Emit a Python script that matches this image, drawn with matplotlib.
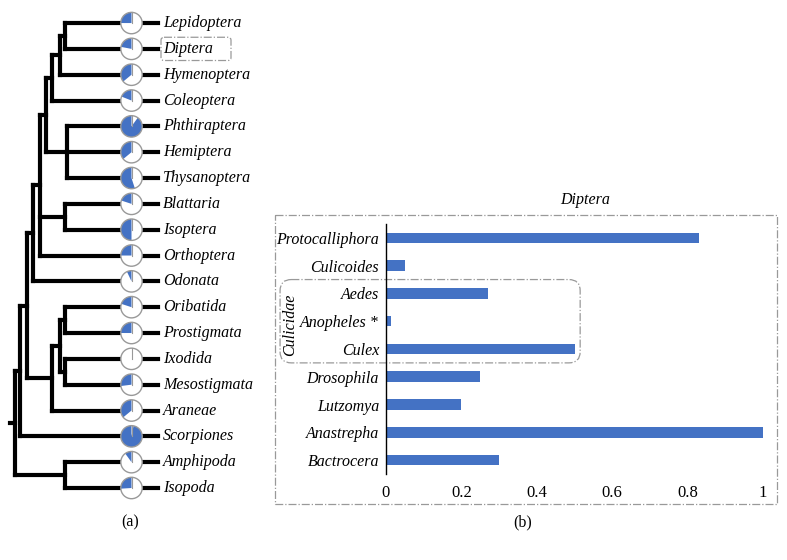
import matplotlib
matplotlib.use("Agg")
import matplotlib.pyplot as plt
from matplotlib.patches import Circle, Wedge, Rectangle, FancyBboxPatch
from matplotlib import transforms as mtransforms

plt.rcParams['font.family'] = ['Liberation Serif', 'DejaVu Serif']

# ---------------- data ----------------
tips = ["Lepidoptera", "Diptera", "Hymenoptera", "Coleoptera", "Phthiraptera",
        "Hemiptera", "Thysanoptera", "Blattaria", "Isoptera", "Orthoptera",
        "Odonata", "Oribatida", "Prostigmata", "Ixodida", "Mesostigmata",
        "Araneae", "Scorpiones", "Amphipoda", "Isopoda"]
pie_fraction = [0.25, 0.22, 0.36, 0.19, 0.90, 0.36, 0.55, 0.20, 0.50, 0.25,
                0.07, 0.20, 0.25, 0.0, 0.27, 0.36, 0.97, 0.10, 0.26]

# tree: (node depth, [children]); children are tip names or nodes
tree = (0, [(5, [(10, [(17, [(23, [(30, [(36, [(42, [(50, [(55, ["Lepidoptera", "Diptera"]),
                                                            "Hymenoptera"]),
                                                     "Coleoptera"]),
                                              (57, ["Phthiraptera", "Hemiptera", "Thysanoptera"])]),
                                       (55, ["Blattaria", "Isoptera"]),
                                       "Orthoptera"]),
                                "Odonata"]),
                         (42, [(50, [(55, ["Oribatida", "Prostigmata"]),
                                     (55, ["Ixodida", "Mesostigmata"])]),
                               "Araneae"])]),
                  "Scorpiones"]),
            (55, ["Amphipoda", "Isopoda"])])])
tip_depth = 121.5
tip_end = 148

genera = ["Protocalliphora", "Culicoides", "Aedes", "Anopheles *", "Culex",
          "Drosophila", "Lutzomya", "Anastrepha", "Bactrocera"]
gen_values = [0.83, 0.05, 0.27, 0.013, 0.50, 0.25, 0.20, 1.00, 0.30]
xticks = [0, 0.2, 0.4, 0.6, 0.8, 1]
xticklabels = ["0", "0.2", "0.4", "0.6", "0.8", "1"]

BLUE = "#4472C4"
GREY = "#999999"

fig = plt.figure(figsize=(7.87, 5.60), dpi=100)

# ---------------- panel (a): tree ----------------
axt = fig.add_axes([0.0, 0.1055, 160 / 787, 0.8764])
axt.set_xlim(-10, 150)
axt.set_ylim(len(tips) - 0.5, -0.5)
axt.axis("off")

tip_index = {n: i for i, n in enumerate(tips)}
LW = 3.0


def seg(x0, x1, y0, y1):
    axt.plot([x0, x1], [y0, y1], color="black", lw=LW,
             solid_capstyle="projecting", clip_on=False, zorder=2)


def draw(node, parent_depth):
    if isinstance(node, str):
        y = tip_index[node]
        seg(parent_depth, tip_end, y, y)
        return y
    depth, children = node
    ys = [draw(c, depth) for c in children]
    y = (ys[0] + ys[-1]) / 2
    if ys[0] != ys[-1]:
        seg(depth, depth, ys[0], ys[-1])
    if parent_depth is not None:
        seg(parent_depth, depth, y, y)
    return y


root_depth, root_children = tree
for c in root_children:
    draw(c, root_depth)

r_in = 0.107
for name, frac in zip(tips, pie_fraction):
    y = tip_index[name]
    tr = (mtransforms.Affine2D().scale(r_in) + fig.dpi_scale_trans +
          mtransforms.ScaledTranslation(tip_depth, y, axt.transData))
    axt.add_patch(Circle((0, 0), 1, transform=tr, fc="white", ec="none",
                         zorder=3, clip_on=False))
    if frac > 0:
        axt.add_patch(Wedge((0, 0), 1, 90, 90 + 360 * frac, transform=tr,
                            fc=BLUE, ec="none", zorder=4, clip_on=False))
    axt.plot([0, 0], [0, 1], transform=tr, color=GREY, lw=0.8, zorder=5,
             clip_on=False)
    axt.add_patch(Circle((0, 0), 1, transform=tr, fc="none", ec=GREY, lw=1.0,
                         zorder=6, clip_on=False))
    axt.text(153, y, name, style="italic", fontsize=11.5, va="center",
             ha="left", clip_on=False)

# dash-dot box around Diptera label
axt.add_patch(FancyBboxPatch((151, tip_index["Diptera"] - 0.45), 70, 0.9,
                             boxstyle="round,pad=0,rounding_size=3",
                             mutation_aspect=0.9 / 24,
                             fc="none", ec=GREY, lw=0.9, ls="-.",
                             clip_on=False, zorder=1))

fig.text(130 / 787, 1 - 522 / 560, "(a)", fontsize=11.5, ha="center", va="center")

# ---------------- panel (b): bars ----------------
axb = fig.add_axes([386 / 787, 1 - 474 / 560, 377 / 787, 250 / 560])
ypos = list(range(len(genera)))
axb.barh(ypos, gen_values, height=0.38, color=BLUE, zorder=2)
axb.set_xlim(0, 1)
axb.set_ylim(len(genera) - 0.5, -0.5)
axb.set_yticks(ypos)
axb.set_yticklabels(genera, style="italic", fontsize=11.5)
axb.set_xticks(xticks)
axb.set_xticklabels(xticklabels, fontsize=12)
axb.tick_params(axis="both", length=0)
axb.tick_params(axis="y", pad=5)
axb.tick_params(axis="x", pad=8)
for s in ["top", "right", "bottom"]:
    axb.spines[s].set_visible(False)
axb.spines["left"].set_color("black")
axb.spines["left"].set_linewidth(1.0)

axb.text(0.528, 1.096, "Diptera", transform=axb.transAxes, style="italic",
         fontsize=11.5, ha="center", va="center")

# outer dash-dot frame
axb.add_patch(Rectangle((-0.294, -0.83), 1.331, 10.42, fc="none", ec=GREY,
                        lw=0.9, ls="-.", clip_on=False, zorder=1))
# Culicidae rounded frame
axb.add_patch(FancyBboxPatch((-0.281, 1.5), 0.796, 3.0,
                             boxstyle="round,pad=0,rounding_size=0.03",
                             mutation_aspect=0.36 / 0.027,
                             fc="none", ec=GREY, lw=0.9, ls="-.",
                             clip_on=False, zorder=1))
axb.text(-0.255, 3.13, "Culicidae", rotation=90, style="italic", fontsize=11.5,
         ha="center", va="center")

fig.text(523 / 787, 1 - 522 / 560, "(b)", fontsize=11.5, ha="center", va="center")

fig.savefig("out.png", dpi=100)
